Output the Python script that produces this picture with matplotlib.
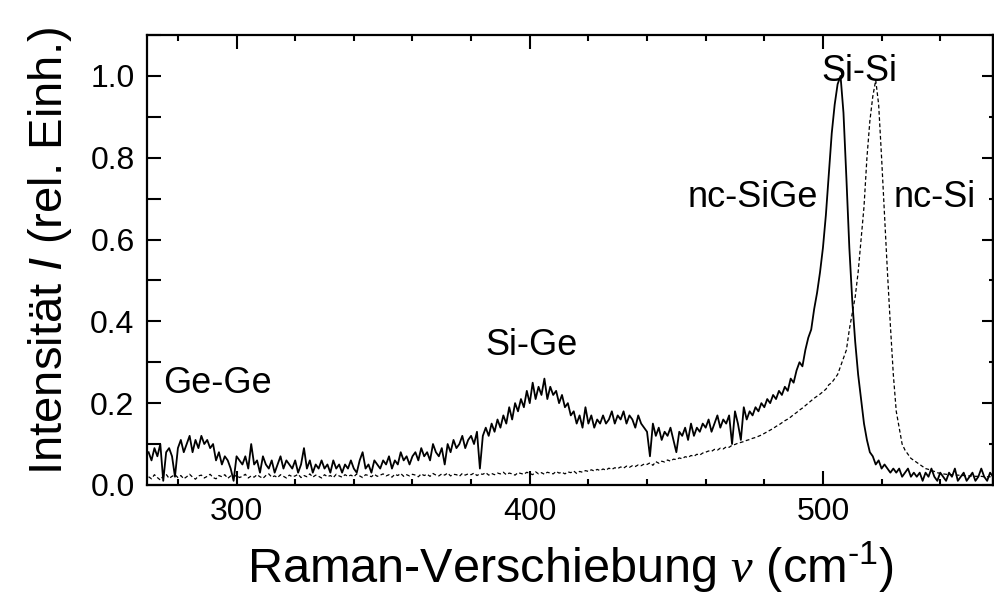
import numpy as np
import matplotlib
matplotlib.use('Agg')
import matplotlib.pyplot as plt

plt.rcParams['font.family'] = ['Liberation Sans', 'DejaVu Sans']
plt.rcParams['mathtext.fontset'] = 'custom'
plt.rcParams['mathtext.rm'] = 'Liberation Sans'
plt.rcParams['mathtext.it'] = 'Liberation Sans:italic'
plt.rcParams['mathtext.sf'] = 'Liberation Serif:italic'

# Raman shift grid (cm^-1), one point per wavenumber
shift = np.arange(270, 561, 1)

# nc-SiGe spectrum, normalised
sige = [
    0.08, 0.06, 0.09, 0.07, 0.10, 0.01, 0.08, 0.09, 0.07, 0.02,
    0.09, 0.11, 0.08, 0.10, 0.12, 0.08, 0.11, 0.09, 0.12, 0.10,
    0.11, 0.09, 0.10, 0.06, 0.08, 0.05, 0.07, 0.06, 0.04, 0.01,
    0.07, 0.06, 0.05, 0.07, 0.04, 0.10, 0.05, 0.06, 0.03, 0.07,
    0.05, 0.04, 0.06, 0.03, 0.05, 0.07, 0.04, 0.06, 0.05, 0.04,
    0.06, 0.03, 0.05, 0.09, 0.04, 0.06, 0.03, 0.05, 0.04, 0.06,
    0.04, 0.05, 0.03, 0.06, 0.04, 0.05, 0.03, 0.05, 0.04, 0.06,
    0.04, 0.03, 0.06, 0.08, 0.04, 0.05, 0.03, 0.06, 0.05, 0.04,
    0.06, 0.05, 0.07, 0.04, 0.06, 0.05, 0.08, 0.06, 0.07, 0.05,
    0.07, 0.08, 0.06, 0.09, 0.07, 0.08, 0.06, 0.10, 0.08, 0.07,
    0.09, 0.05, 0.10, 0.08, 0.11, 0.09, 0.10, 0.12, 0.09, 0.11,
    0.12, 0.10, 0.13, 0.04, 0.12, 0.14, 0.12, 0.15, 0.13, 0.16,
    0.14, 0.17, 0.15, 0.19, 0.16, 0.20, 0.18, 0.21, 0.19, 0.23,
    0.20, 0.25, 0.21, 0.24, 0.22, 0.26, 0.21, 0.24, 0.22, 0.23,
    0.20, 0.22, 0.19, 0.20, 0.17, 0.18, 0.15, 0.17, 0.14, 0.19,
    0.15, 0.17, 0.14, 0.16, 0.15, 0.17, 0.15, 0.16, 0.18, 0.15,
    0.17, 0.16, 0.18, 0.15, 0.17, 0.16, 0.14, 0.17, 0.15, 0.14,
    0.13, 0.07, 0.15, 0.12, 0.14, 0.11, 0.13, 0.12, 0.14, 0.11,
    0.08, 0.13, 0.12, 0.14, 0.11, 0.15, 0.12, 0.14, 0.13, 0.15,
    0.14, 0.16, 0.13, 0.15, 0.17, 0.14, 0.16, 0.15, 0.17, 0.10,
    0.18, 0.15, 0.11, 0.19, 0.16, 0.18, 0.17, 0.19, 0.18, 0.20,
    0.19, 0.21, 0.20, 0.22, 0.21, 0.23, 0.22, 0.24, 0.23, 0.26,
    0.25, 0.28, 0.30, 0.29, 0.33, 0.36, 0.38, 0.43, 0.47, 0.52,
    0.58, 0.66, 0.76, 0.86, 0.93, 0.98, 1.00, 0.91, 0.75, 0.58,
    0.45, 0.35, 0.27, 0.21, 0.15, 0.11, 0.08, 0.07, 0.05, 0.06,
    0.04, 0.05, 0.04, 0.03, 0.04, 0.03, 0.04, 0.02, 0.03, 0.04,
    0.02, 0.03, 0.02, 0.03, 0.01, 0.03, 0.02, 0.04, 0.02, 0.01,
    0.03, 0.02, 0.01, 0.03, 0.02, 0.04, 0.01, 0.02, 0.03, 0.01,
    0.02, 0.03, 0.01, 0.02, 0.04, 0.02, 0.01, 0.03, 0.02, 0.03,
    0.02,
]

# nc-Si reference spectrum, normalised
si = [
    0.020, 0.015, 0.025, 0.018, 0.012, 0.022, 0.026, 0.016, 0.021, 0.025,
    0.018, 0.023, 0.015, 0.020, 0.026, 0.019, 0.014, 0.022, 0.024, 0.017,
    0.021, 0.026, 0.018, 0.015, 0.023, 0.020, 0.025, 0.016, 0.022, 0.019,
    0.024, 0.018, 0.021, 0.026, 0.017, 0.022, 0.019, 0.025, 0.020, 0.016,
    0.023, 0.027, 0.019, 0.022, 0.018, 0.025, 0.021, 0.017, 0.024, 0.020,
    0.022, 0.026, 0.018, 0.023, 0.020, 0.027, 0.019, 0.024, 0.021, 0.017,
    0.025, 0.020, 0.023, 0.018, 0.026, 0.022, 0.019, 0.025, 0.021, 0.024,
    0.020, 0.027, 0.022, 0.018, 0.025, 0.023, 0.020, 0.026, 0.021, 0.024,
    0.027, 0.022, 0.025, 0.019, 0.026, 0.023, 0.028, 0.021, 0.025, 0.022,
    0.026, 0.024, 0.020, 0.027, 0.023, 0.026, 0.021, 0.028, 0.024, 0.022,
    0.027, 0.024, 0.029, 0.022, 0.026, 0.025, 0.021, 0.028, 0.024, 0.027,
    0.025, 0.029, 0.023, 0.027, 0.026, 0.030, 0.024, 0.028, 0.025, 0.029,
    0.027, 0.031, 0.025, 0.029, 0.027, 0.024, 0.030, 0.028, 0.026, 0.031,
    0.028, 0.025, 0.032, 0.027, 0.030, 0.026, 0.031, 0.029, 0.027, 0.033,
    0.029, 0.031, 0.027, 0.032, 0.030, 0.034, 0.028, 0.033, 0.031, 0.035,
    0.033, 0.037, 0.034, 0.038, 0.035, 0.039, 0.036, 0.041, 0.038, 0.042,
    0.040, 0.044, 0.041, 0.046, 0.043, 0.047, 0.045, 0.049, 0.047, 0.051,
    0.050, 0.054, 0.048, 0.057, 0.053, 0.058, 0.056, 0.061, 0.058, 0.063,
    0.062, 0.066, 0.064, 0.069, 0.067, 0.072, 0.070, 0.075, 0.073, 0.078,
    0.080, 0.083, 0.082, 0.087, 0.085, 0.090, 0.088, 0.093, 0.092, 0.097,
    0.099, 0.102, 0.104, 0.106, 0.109, 0.111, 0.114, 0.116, 0.119, 0.122,
    0.126, 0.130, 0.134, 0.138, 0.143, 0.147, 0.152, 0.157, 0.161, 0.166,
    0.172, 0.177, 0.183, 0.188, 0.194, 0.200, 0.206, 0.212, 0.217, 0.222,
    0.228, 0.234, 0.245, 0.250, 0.260, 0.270, 0.290, 0.310, 0.330, 0.380,
    0.420, 0.460, 0.520, 0.600, 0.680, 0.800, 0.890, 0.950, 0.990, 0.930,
    0.800, 0.660, 0.520, 0.390, 0.270, 0.180, 0.140, 0.100, 0.085, 0.075,
    0.065, 0.060, 0.055, 0.050, 0.045, 0.040, 0.038, 0.035, 0.033, 0.030,
    0.028, 0.027, 0.026, 0.025, 0.025, 0.024, 0.024, 0.023, 0.023, 0.022,
    0.022, 0.022, 0.021, 0.021, 0.021, 0.020, 0.020, 0.020, 0.020, 0.020,
    0.020,
]

# peak labels: (text, x, baseline y)
labels = [
    ("Ge-Ge", 274.8, 0.224),
    ("Si-Ge", 385.0, 0.317),
    ("nc-SiGe", 453.9, 0.68),
    ("Si-Si", 499.5, 0.988),
    ("nc-Si", 524.0, 0.68),
]

fig = plt.figure(figsize=(9.94, 5.95), dpi=100)
ax = fig.add_axes([0.148, 0.185, 0.851, 0.756])

ax.plot(shift, sige, color='black', lw=1.3)
ax.plot(shift, si, color='black', lw=0.9, ls=(0, (3, 2)))

for txt, x, y in labels:
    ax.text(x, y, txt, fontsize=26, ha='left', va='baseline')

ax.set_xlim(269.5, 558)
ax.set_ylim(0, 1.1)
ax.set_xticks([300, 400, 500])
ax.set_xticks(np.arange(280, 560, 20), minor=True)
ax.set_yticks(np.arange(0, 1.01, 0.2))
ax.set_yticks(np.arange(0, 1.11, 0.1), minor=True)
ax.yaxis.set_major_formatter(plt.FormatStrFormatter('%.1f'))

for s in ax.spines.values():
    s.set_linewidth(1.6)

ax.tick_params(axis='both', which='both', direction='in', width=1.5,
               labelsize=23, pad=9)
ax.tick_params(axis='x', which='both', top=True)
ax.tick_params(axis='x', which='major', length=10)
ax.tick_params(axis='x', which='minor', length=4)
ax.tick_params(axis='y', which='both', length=10)

# right side ticks: long majors, short minors
sec = ax.secondary_yaxis('right')
sec.set_yticks(np.arange(0, 1.01, 0.2))
sec.set_yticks(np.arange(0, 1.11, 0.1), minor=True)
sec.tick_params(axis='y', which='both', direction='in', width=1.5,
                labelright=False)
sec.tick_params(axis='y', which='major', length=8)
sec.tick_params(axis='y', which='minor', length=3)
sec.spines['right'].set_linewidth(1.6)

ax.set_xlabel('Raman-Verschiebung $\\mathsf{\\nu}$ (cm$^{\u2010 1}$)',
              fontsize=35, labelpad=9)
ax.set_ylabel(r'Intensität $\mathbf{\mathit{I}}$ (rel. Einh.)', fontsize=34)
ax.yaxis.set_label_coords(-0.087, 0.52)

plt.savefig('out.png', dpi=100)
